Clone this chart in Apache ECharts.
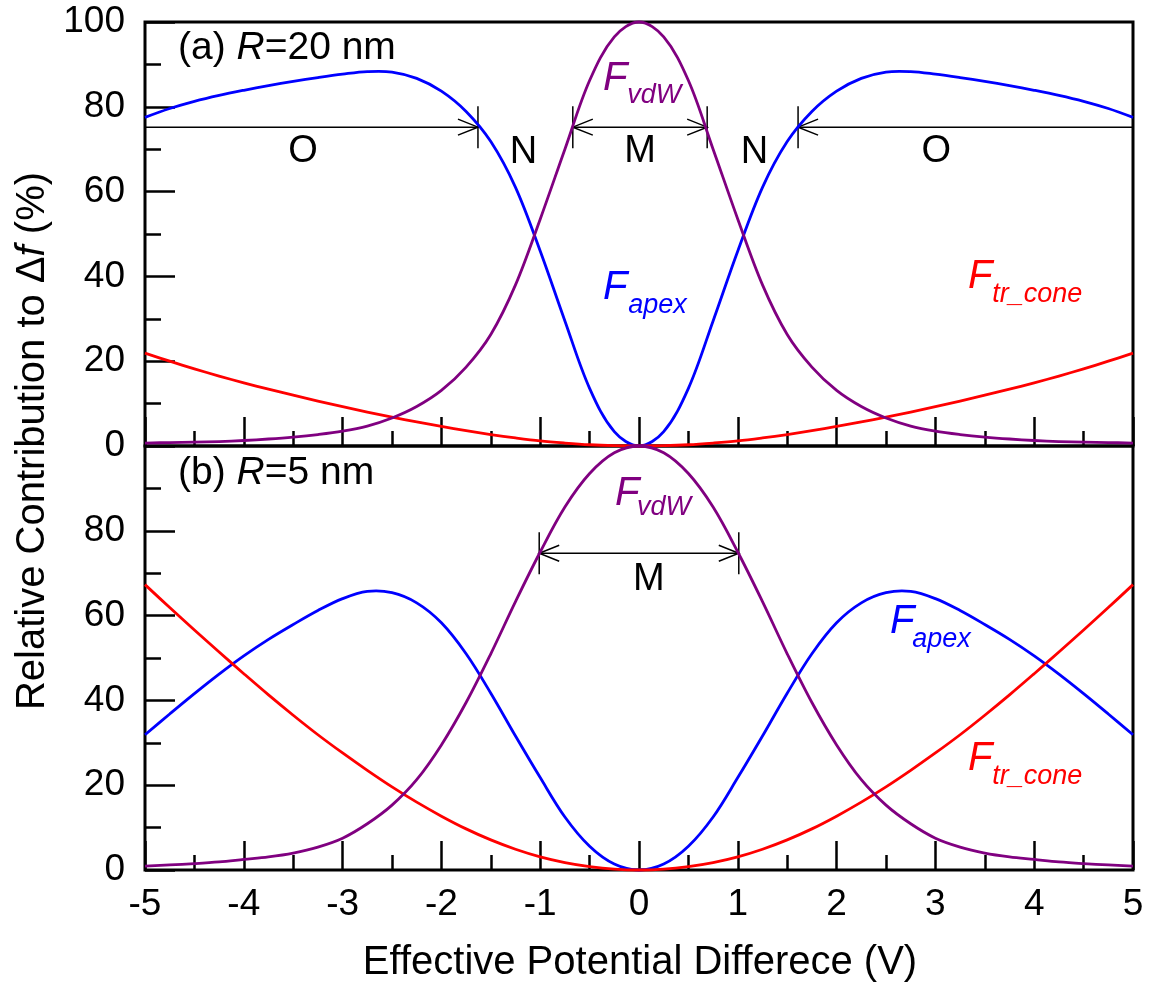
<!DOCTYPE html>
<html>
<head>
<meta charset="utf-8">
<script src="https://cdn.jsdelivr.net/npm/echarts@6/dist/echarts.min.js"></script>
<style>
html, body { margin: 0; padding: 0; background: #fff; }
#chart { width: 1153px; height: 990px; }
</style>
</head>
<body>
<div id="chart"></div>
<script>
// potential difference (V)
const volts = [-5, -4.75, -4.5, -4.25, -4, -3.75, -3.5, -3.25, -3, -2.75, -2.5, -2.25, -2, -1.75, -1.5, -1.25, -1, -0.75, -0.5, -0.25,
    0, 0.25, 0.5, 0.75, 1, 1.25, 1.5, 1.75, 2, 2.25, 2.5, 2.75, 3, 3.25, 3.5, 3.75, 4, 4.25, 4.5, 4.75, 5]

// (a) R = 20 nm
const apexA = [77.5, 79.6, 81.3, 82.7, 83.9, 85.0, 86.0, 86.9, 87.7, 88.3, 88.2, 86.7, 83.7, 78.9, 71.8, 61.0, 46.0, 29.5, 13.6, 3.4,
    0, 3.4, 13.6, 29.5, 46.0, 61.0, 71.8, 78.9, 83.7, 86.7, 88.2, 88.3, 87.7, 86.9, 86.0, 85.0, 83.9, 82.7, 81.3, 79.6, 77.5]
const vdwA = [0.7, 0.8, 0.9, 1.05, 1.3, 1.65, 2.1, 2.7, 3.5, 4.7, 6.6, 9.3, 13.1, 18.6, 26.3, 38.0, 53.5, 70.0, 86.2, 96.5,
    100, 96.5, 86.2, 70.0, 53.5, 38.0, 26.3, 18.6, 13.1, 9.3, 6.6, 4.7, 3.5, 2.7, 2.1, 1.65, 1.3, 1.05, 0.9, 0.8, 0.7]
const coneA = [21.9, 20.0, 18.2, 16.5, 14.9, 13.4, 12.0, 10.6, 9.3, 8.0, 6.8, 5.7, 4.6, 3.6, 2.7, 1.9, 1.2, 0.7, 0.3, 0.08,
    0, 0.08, 0.3, 0.7, 1.2, 1.9, 2.7, 3.6, 4.6, 5.7, 6.8, 8.0, 9.3, 10.6, 12.0, 13.4, 14.9, 16.5, 18.2, 20.0, 21.9]

// (b) R = 5 nm
const apexB = [31.9, 36.8, 41.6, 46.2, 50.5, 54.4, 57.9, 61.2, 64.0, 65.7, 65.4, 63.0, 58.3, 51.0, 41.7, 31.6, 21.8, 12.5, 5.6, 1.4,
    0, 1.4, 5.6, 12.5, 21.8, 31.6, 41.7, 51.0, 58.3, 63.0, 65.4, 65.7, 64.0, 61.2, 57.9, 54.4, 50.5, 46.2, 41.6, 36.8, 31.9]
const vdwB = [0.9, 1.2, 1.5, 1.9, 2.5, 3.1, 4.0, 5.4, 7.5, 10.9, 15.3, 21.3, 29.5, 39.5, 51.0, 63.3, 75.0, 85.6, 93.5, 98.4,
    100, 98.4, 93.5, 85.6, 75.0, 63.3, 51.0, 39.5, 29.5, 21.3, 15.3, 10.9, 7.5, 5.4, 4.0, 3.1, 2.5, 1.9, 1.5, 1.2, 0.9]
const coneB = [67.3, 61.9, 56.6, 51.4, 46.3, 41.3, 36.5, 31.9, 27.6, 23.5, 19.6, 16.0, 12.7, 9.7, 7.1, 4.9, 3.1, 1.75, 0.8, 0.2,
    0, 0.2, 0.8, 1.75, 3.1, 4.9, 7.1, 9.7, 12.7, 16.0, 19.6, 23.5, 27.6, 31.9, 36.5, 41.3, 46.3, 51.4, 56.6, 61.9, 67.3]

// dimension arrows: [from V, to V, level %, head at start, head at end]
const rangesA = [[-5, -1.63, 75.2, 0, 1], [-0.67, 0.69, 75.2, 1, 1], [1.61, 5, 75.2, 1, 0]]
const rangesB = [[-1.01, 1.01, 74.7, 1, 1]]

const xTicks = [-5, -4, -3, -2, -1, 0, 1, 2, 3, 4, 5]
const yTicks = [0, 20, 40, 60, 80, 100]

const FONT = '"Liberation Sans", Arial, sans-serif'
const BLUE = '#0000ff'
const PURPLE = '#800080'
const RED = '#ff0000'

const pairs = (ys) => volts.map((v, i) => [v, ys[i]])

const chart = echarts.init(document.getElementById('chart'))

const xAxisBase = (grid, labels) => ({
    gridIndex: grid,
    type: 'value',
    min: xTicks[0],
    max: xTicks[xTicks.length - 1],
    interval: 1,
    axisLine: { show: false, onZero: false },
    axisTick: { inside: true, length: 29, lineStyle: { color: '#000', width: 2.5 } },
    minorTick: { show: true, splitNumber: 2, length: 15, lineStyle: { color: '#000', width: 2.5 } },
    splitLine: { show: false },
    axisLabel: {
        show: labels, color: '#000', fontSize: 37, fontFamily: FONT, margin: 16
    }
})

const yAxisBase = (grid, hideTop) => ({
    gridIndex: grid,
    type: 'value',
    position: 'left',
    min: yTicks[0],
    max: yTicks[yTicks.length - 1],
    interval: 20,
    axisLine: { show: false, onZero: false },
    axisTick: { inside: true, length: 30, lineStyle: { color: '#000', width: 2.5 } },
    minorTick: { show: true, splitNumber: 2, length: 16, lineStyle: { color: '#000', width: 2.5 } },
    splitLine: { show: false },
    axisLabel: {
        color: '#000', fontSize: 37, fontFamily: FONT, margin: 20,
        formatter: (v) => (hideTop && v === 100 ? '' : String(v))
    }
})

// one smooth curve per series, points mapped through the panel's axes
const curve = (name, ys, color, grid) => ({
    name: name,
    type: 'custom',
    xAxisIndex: grid,
    yAxisIndex: grid,
    data: pairs(ys),
    encode: { x: 0, y: 1 },
    renderItem: (params, api) => {
        if (params.dataIndex !== 0) return null
        const pts = volts.map((v, i) => api.coord([v, ys[i]]))
        return {
            type: 'polyline',
            shape: { points: pts, smooth: 0.35 },
            style: { stroke: color, lineWidth: 2.8, fill: null }
        }
    },
    z: 3
})

// draws a horizontal dimension line with end bars and open arrow heads
const renderRange = (params, api) => {
    const a = api.coord([api.value(0), api.value(2)])
    const b = api.coord([api.value(1), api.value(2)])
    const st = { stroke: '#000', lineWidth: 1.5, fill: null }
    const kids = [{ type: 'line', shape: { x1: a[0], y1: a[1], x2: b[0], y2: b[1] }, style: st }]
    if (api.value(3)) {
        kids.push({ type: 'line', shape: { x1: a[0], y1: a[1] - 21, x2: a[0], y2: a[1] + 21 }, style: st })
        kids.push({ type: 'polyline', shape: { points: [[a[0] + 20, a[1] - 8], [a[0], a[1]], [a[0] + 20, a[1] + 8]] }, style: st })
    }
    if (api.value(4)) {
        kids.push({ type: 'line', shape: { x1: b[0], y1: b[1] - 21, x2: b[0], y2: b[1] + 21 }, style: st })
        kids.push({ type: 'polyline', shape: { points: [[b[0] - 20, b[1] - 8], [b[0], b[1]], [b[0] - 20, b[1] + 8]] }, style: st })
    }
    return { type: 'group', children: kids }
}

const ranges = (data, grid) => ({
    type: 'custom',
    xAxisIndex: grid,
    yAxisIndex: grid,
    data: data,
    encode: { x: [0, 1], y: 2 },
    renderItem: renderRange,
    clip: false,
    z: 2
})

const option = {
    animation: false,
    backgroundColor: '#fff',
    grid: [
        { left: 145, right: 20, top: 22, height: 424, show: true, borderColor: '#000', borderWidth: 3 },
        { left: 145, right: 20, top: 446, height: 424, show: true, borderColor: '#000', borderWidth: 3 }
    ],
    xAxis: [xAxisBase(0, false), xAxisBase(1, true)],
    yAxis: [yAxisBase(0, false), yAxisBase(1, true)],
    series: [
        curve('Fapex a', apexA, BLUE, 0),
        curve('Ftr_cone a', coneA, RED, 0),
        curve('FvdW a', vdwA, PURPLE, 0),
        curve('Fapex b', apexB, BLUE, 1),
        curve('Ftr_cone b', coneB, RED, 1),
        curve('FvdW b', vdwB, PURPLE, 1),
        ranges(rangesA, 0),
        ranges(rangesB, 1)
    ]
}

chart.setOption(option)

// annotation texts, placed in data coordinates of each panel
const plain = { fontSize: 39, fontFamily: FONT, fill: '#000' }
const italic = { fontSize: 39, fontFamily: FONT, fontStyle: 'italic', fill: '#000' }

const letterNotes = [
    { g: 0, t: 'O', x: -3.40, y: 69.4 },
    { g: 0, t: 'N', x: -1.17, y: 69.2 },
    { g: 0, t: 'M', x: 0.01, y: 69.4 },
    { g: 0, t: 'N', x: 1.17, y: 69.2 },
    { g: 0, t: 'O', x: 3.01, y: 69.4 },
    { g: 1, t: 'M', x: 0.1, y: 68.6 }
]

// force labels: main letter plus italic subscript
const forceNotes = [
    { g: 0, sub: 'vdW', color: PURPLE, x: -0.365, y: 86.5, sx: -0.12, sy: 82.6 },
    { g: 0, sub: 'apex', color: BLUE, x: -0.365, y: 37.4, sx: -0.11, sy: 33.1 },
    { g: 0, sub: 'tr_cone', color: RED, x: 3.33, y: 40.0, sx: 3.575, sy: 35.7 },
    { g: 1, sub: 'vdW', color: PURPLE, x: -0.243, y: 88.8, sx: -0.02, sy: 85.5 },
    { g: 1, sub: 'apex', color: BLUE, x: 2.54, y: 58.5, sx: 2.765, sy: 54.3 },
    { g: 1, sub: 'tr_cone', color: RED, x: 3.33, y: 26.2, sx: 3.575, sy: 22.0 }
]

const toPx = (g, x, y) => chart.convertToPixel({ xAxisIndex: g, yAxisIndex: g }, [x, y])

const graphics = []

letterNotes.forEach((n) => {
    const p = toPx(n.g, n.x, n.y)
    graphics.push({
        type: 'text', x: p[0], y: p[1], z: 10,
        style: { text: n.t, font: '38px ' + FONT, fill: '#000', textAlign: 'center', textVerticalAlign: 'middle' }
    })
})

forceNotes.forEach((n) => {
    const p = toPx(n.g, n.x, n.y)
    const s = toPx(n.g, n.sx, n.sy)
    graphics.push({
        type: 'text', x: p[0], y: p[1], z: 10,
        style: { text: 'F', font: 'italic 40px ' + FONT, fill: n.color, textAlign: 'left', textVerticalAlign: 'middle' }
    })
    graphics.push({
        type: 'text', x: s[0], y: s[1], z: 10,
        style: { text: n.sub, font: 'italic 27px ' + FONT, fill: n.color, textAlign: 'left', textVerticalAlign: 'middle' }
    })
})

// panel labels
graphics.push({
    type: 'text', x: 178, y: 48, z: 10,
    style: {
        text: '{a|(a) }{i|R}{a|=20 nm}', textAlign: 'left', textVerticalAlign: 'middle',
        rich: { a: plain, i: italic }
    }
})
graphics.push({
    type: 'text', x: 178, y: 473, z: 10,
    style: {
        text: '{a|(b) }{i|R}{a|=5 nm}', textAlign: 'left', textVerticalAlign: 'middle',
        rich: { a: plain, i: italic }
    }
})

// axis titles
graphics.push({
    type: 'text', x: 640, y: 963, z: 10,
    style: {
        text: 'Effective Potential Differece (V)', font: '40px ' + FONT, fill: '#000',
        textAlign: 'center', textVerticalAlign: 'middle'
    }
})
graphics.push({
    type: 'text', x: 33, y: 441, rotation: Math.PI / 2, z: 10,
    style: {
        text: '{a|Relative Contribution to Δ}{i|f}{a| (%)}', textAlign: 'center', textVerticalAlign: 'middle',
        rich: {
            a: { fontSize: 40, fontFamily: FONT, fill: '#000' },
            i: { fontSize: 40, fontFamily: FONT, fontStyle: 'italic', fill: '#000' }
        }
    }
})

chart.setOption({ graphic: graphics })

window.addEventListener('resize', () => {
    chart.resize()
})
</script>
</body>
</html>
